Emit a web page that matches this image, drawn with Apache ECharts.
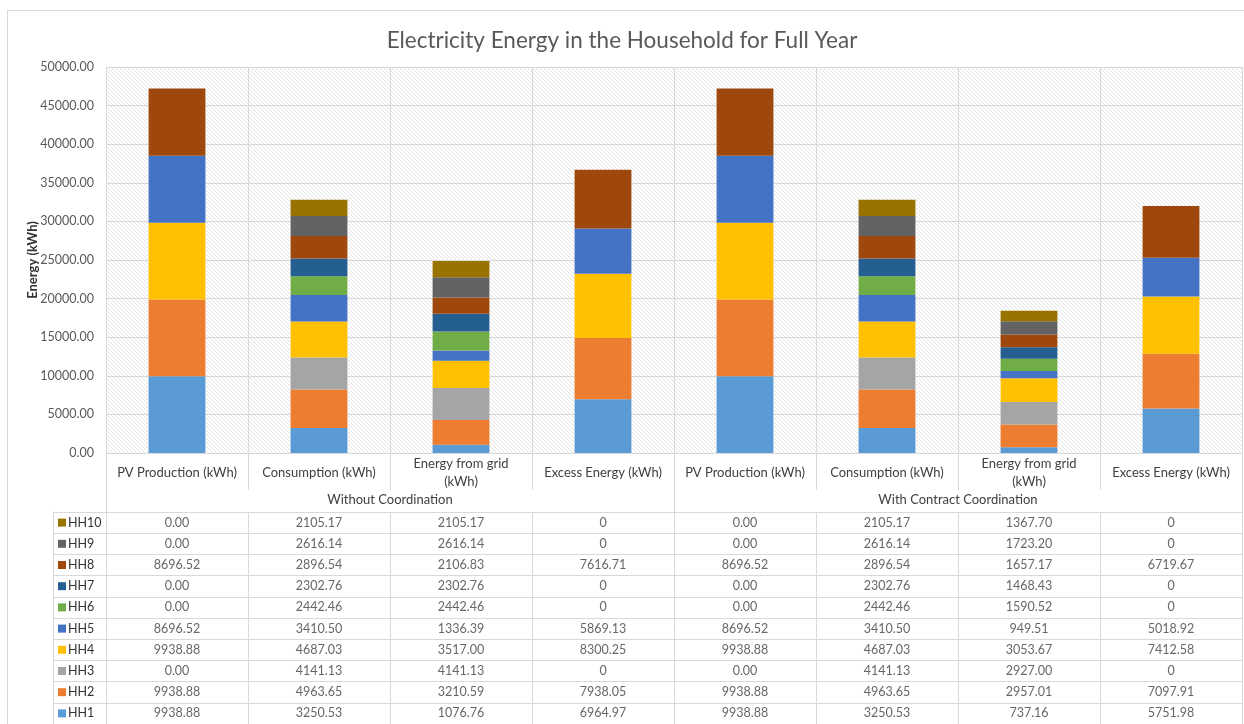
<!DOCTYPE html>
<html>
<head>
<meta charset="utf-8">
<script src="https://cdn.jsdelivr.net/npm/echarts@6/dist/echarts.min.js"></script>
<style>
html,body{margin:0;padding:0;background:#fff;}
#chart{position:absolute;left:0;top:0;width:1244px;height:724px;}
#frame{position:absolute;left:7px;top:10px;width:1240px;height:720px;border:1px solid #d9d9d9;pointer-events:none;}
</style>
</head>
<body>
<div id="chart"></div>
<div id="frame"></div>
<script>
// ---- data ----
const categories = ['PV Production (kWh)', 'Consumption (kWh)', 'Energy from grid\n(kWh)', 'Excess Energy (kWh)',
                    'PV Production (kWh)', 'Consumption (kWh)', 'Energy from grid\n(kWh)', 'Excess Energy (kWh)'];
const groups = ['Without Coordination', 'With Contract Coordination'];
const households = ['HH1','HH2','HH3','HH4','HH5','HH6','HH7','HH8','HH9','HH10'];
const HH1  = [9938.88, 3250.53, 1076.76, 6964.97, 9938.88, 3250.53, 737.16, 5751.98];
const HH2  = [9938.88, 4963.65, 3210.59, 7938.05, 9938.88, 4963.65, 2957.01, 7097.91];
const HH3  = [0, 4141.13, 4141.13, 0, 0, 4141.13, 2927.00, 0];
const HH4  = [9938.88, 4687.03, 3517.00, 8300.25, 9938.88, 4687.03, 3053.67, 7412.58];
const HH5  = [8696.52, 3410.50, 1336.39, 5869.13, 8696.52, 3410.50, 949.51, 5018.92];
const HH6  = [0, 2442.46, 2442.46, 0, 0, 2442.46, 1590.52, 0];
const HH7  = [0, 2302.76, 2302.76, 0, 0, 2302.76, 1468.43, 0];
const HH8  = [8696.52, 2896.54, 2106.83, 7616.71, 8696.52, 2896.54, 1657.17, 6719.67];
const HH9  = [0, 2616.14, 2616.14, 0, 0, 2616.14, 1723.20, 0];
const HH10 = [0, 2105.17, 2105.17, 0, 0, 2105.17, 1367.70, 0];
const yTicks = {min: 0, max: 50000, interval: 5000};
// ---- style ----
const colors = ['#5B9BD5','#ED7D31','#A5A5A5','#FFC000','#4472C4','#70AD47','#255E91','#9E480E','#636363','#997300'];
const FONT = 'Lato, "Open Sans", sans-serif';
const GRID_LINE = '#d9d9d9';

const hhData = [HH1,HH2,HH3,HH4,HH5,HH6,HH7,HH8,HH9,HH10];

// hatch pattern
const pc = document.createElement('canvas');
pc.width = 4; pc.height = 4;
const g = pc.getContext('2d');
g.fillStyle = '#ffffff'; g.fillRect(0,0,4,4);
g.strokeStyle = '#e3e3e3'; g.lineWidth = 1;
g.beginPath(); g.moveTo(-1,-1); g.lineTo(5,5); g.stroke();
g.beginPath(); g.moveTo(-1,3); g.lineTo(1,5); g.stroke();
g.beginPath(); g.moveTo(3,-1); g.lineTo(5,1); g.stroke();

const chart = echarts.init(document.getElementById('chart'), null, {renderer: 'canvas'});

const barSeries = households.map((name, i) => ({
  name: name, type: 'bar', stack: 'total', xAxisIndex: 0, yAxisIndex: 0,
  barWidth: '40%', itemStyle: {color: colors[i]}, data: hhData[i]
}));

const tableData = [];
hhData.forEach((arr, r) => arr.forEach((v, c) => tableData.push([c, r, v])));

const rich = {t: {color: '#333333', fontSize: 12.5, fontFamily: FONT, padding: [0,0,0,2]}};
colors.forEach((c, i) => { rich['c' + i] = {backgroundColor: c, width: 8, height: 8}; });

chart.setOption({
  animation: false,
  textStyle: {fontFamily: FONT},
  title: {
    text: 'Electricity Energy in the Household for Full Year',
    left: 'center', top: 24,
    textStyle: {fontFamily: FONT, fontSize: 22.5, fontWeight: 'normal', color: '#595959'}
  },
  grid: [
    {left: 106, right: 2, top: 67, height: 386, show: true, borderWidth: 0,
     backgroundColor: {image: pc, repeat: 'repeat'}},
    {left: 106, right: 2, top: 512, bottom: 0}
  ],
  xAxis: [
    {type: 'category', gridIndex: 0, data: categories, position: 'bottom',
     axisLine: {lineStyle: {color: GRID_LINE}},
     axisTick: {show: true, interval: 0, length: 37, lineStyle: {color: GRID_LINE}},
     axisLabel: {interval: 0, margin: 20, verticalAlign: 'middle', lineHeight: 18,
                 fontSize: 13, color: '#404040', fontFamily: FONT},
     splitLine: {show: true, interval: 0, lineStyle: {color: GRID_LINE}}},
    {type: 'category', gridIndex: 0, data: groups, position: 'bottom',
     axisLine: {show: false},
     axisTick: {show: true, interval: 0, length: 59, lineStyle: {color: GRID_LINE}},
     axisLabel: {interval: 0, margin: 47, verticalAlign: 'middle',
                 fontSize: 13, color: '#404040', fontFamily: FONT},
     splitLine: {show: false}},
    {type: 'category', gridIndex: 1, data: categories, position: 'top',
     axisLine: {show: true, lineStyle: {color: GRID_LINE}},
     axisTick: {show: false}, axisLabel: {show: false},
     splitLine: {show: true, interval: 0, lineStyle: {color: GRID_LINE}}}
  ],
  yAxis: [
    {type: 'value', gridIndex: 0, min: yTicks.min, max: yTicks.max, interval: yTicks.interval,
     name: 'Energy (kWh)', nameLocation: 'middle', nameGap: 73, nameMoveOverlap: false,
     nameTextStyle: {fontSize: 13, color: '#333333', fontFamily: FONT, fontWeight: 'bold',
                     verticalAlign: 'middle'},
     axisLine: {show: false}, axisTick: {show: false},
     axisLabel: {margin: 12, fontSize: 12.5, color: '#595959', fontFamily: FONT,
                 formatter: v => v.toFixed(2)},
     splitLine: {show: true, lineStyle: {color: GRID_LINE}}},
    {type: 'category', gridIndex: 1, data: households, position: 'left',
     axisLine: {show: true, lineStyle: {color: GRID_LINE}},
     axisTick: {show: true, interval: 0, length: 53, lineStyle: {color: GRID_LINE}},
     axisLabel: {interval: 0, margin: 48, align: 'left', rich: rich,
                 formatter: (v, i) => '{c' + i + '|}{t|' + v + '}'},
     splitLine: {show: true, interval: 0, lineStyle: {color: GRID_LINE}}},
    {type: 'category', gridIndex: 1, data: households, position: 'left', offset: 53,
     axisLine: {show: true, lineStyle: {color: GRID_LINE}},
     axisTick: {show: false}, axisLabel: {show: false}, splitLine: {show: false}},
    {type: 'category', gridIndex: 1, data: households, position: 'right',
     axisLine: {show: true, lineStyle: {color: GRID_LINE}},
     axisTick: {show: false}, axisLabel: {show: false}, splitLine: {show: false}}
  ],
  series: barSeries.concat([{
    name: 'table', type: 'scatter', xAxisIndex: 2, yAxisIndex: 1,
    symbolSize: 1, itemStyle: {color: 'rgba(0,0,0,0)'}, silent: true,
    label: {show: true, position: 'inside', color: '#404040', fontSize: 12.5, fontFamily: FONT,
            formatter: p => {
              const c = p.value[0], v = p.value[2];
              if (c % 4 === 3 && v === 0) return '0';
              return v.toFixed(2);
            }},
    data: tableData
  }])
});
</script>
</body>
</html>
